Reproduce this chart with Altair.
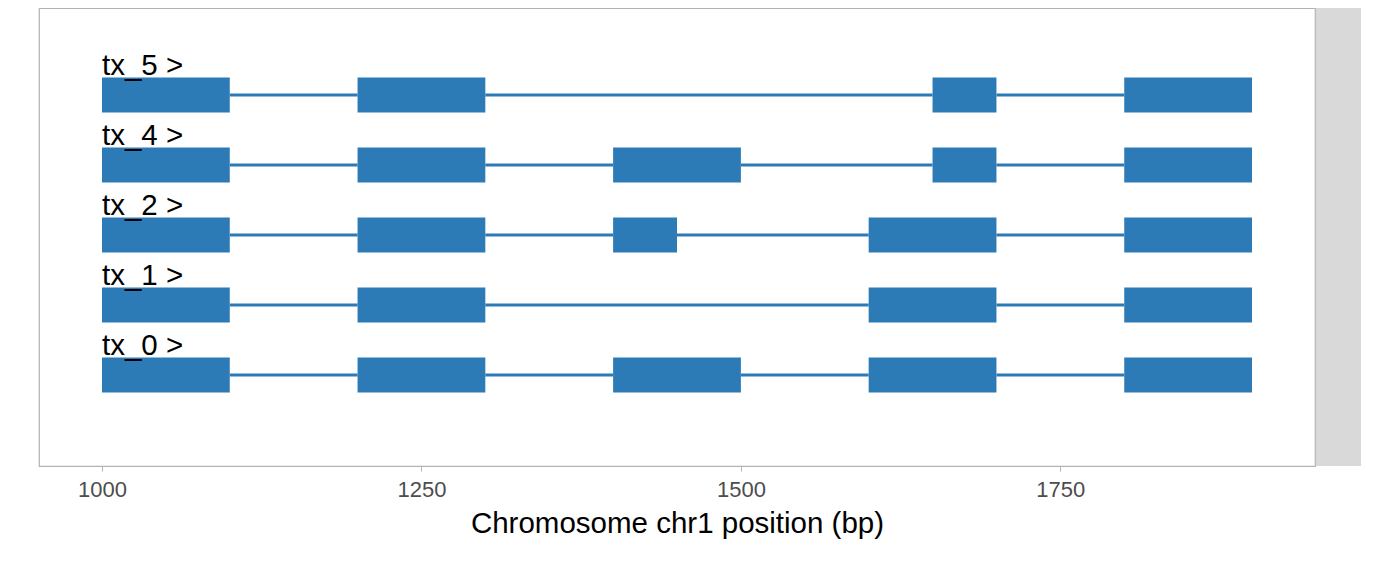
import pandas as pd
import altair as alt

# transcript tracks, bottom to top
transcripts = ["tx_0", "tx_1", "tx_2", "tx_4", "tx_5"]
exon_starts = [
    [1000, 1200, 1400, 1600, 1800],
    [1000, 1200, 1600, 1800],
    [1000, 1200, 1400, 1600, 1800],
    [1000, 1200, 1400, 1650, 1800],
    [1000, 1200, 1650, 1800],
]
exon_ends = [
    [1100, 1300, 1500, 1700, 1900],
    [1100, 1300, 1700, 1900],
    [1100, 1300, 1450, 1700, 1900],
    [1100, 1300, 1500, 1700, 1900],
    [1100, 1300, 1700, 1900],
]
x_ticks = [1000, 1250, 1500, 1750]

BLUE = "#2c7bb6"
FONT = "Liberation Sans"

exons, introns, labels = [], [], []
for i, tx in enumerate(transcripts):
    row = i + 1
    for s, e in zip(exon_starts[i], exon_ends[i]):
        exons.append({"tx": tx, "start": s, "end": e, "lo": row - 0.25, "hi": row + 0.25})
    for e, s in zip(exon_ends[i][:-1], exon_starts[i][1:]):
        introns.append({"tx": tx, "start": e, "end": s, "row": row})
    labels.append({"tx": tx, "label": tx + " >", "x": exon_starts[i][0], "row": row})

exon_df = pd.DataFrame(exons)
intron_df = pd.DataFrame(introns)
label_df = pd.DataFrame(labels)

x_scale = alt.Scale(domain=[950.7, 1949.3], nice=False, zero=False)
y_scale = alt.Scale(domain=[-0.3, 6.243], nice=False, zero=False)

x_axis = alt.Axis(values=x_ticks, format="d", grid=False, domain=False, tickColor="#b3b3b3",
                  tickSize=5, labelPadding=8, labelColor="#4d4d4d", labelFontSize=22,
                  labelFont=FONT, title="Chromosome chr1 position (bp)", titleFont=FONT,
                  titleFontSize=29.5, titleFontWeight="normal", titleColor="black",
                  titlePadding=9, labelFlush=False)

intron_layer = (
    alt.Chart(intron_df)
    .mark_rule(color=BLUE, strokeWidth=2.8)
    .encode(
        x=alt.X("start:Q", scale=x_scale, axis=x_axis),
        x2="end:Q",
        y=alt.Y("row:Q", scale=y_scale, axis=None),
    )
)

exon_layer = (
    alt.Chart(exon_df)
    .mark_rect(color=BLUE)
    .encode(
        x=alt.X("start:Q", scale=x_scale, axis=x_axis),
        x2="end:Q",
        y=alt.Y("lo:Q", scale=y_scale, axis=None),
        y2="hi:Q",
    )
)

label_layer = (
    alt.Chart(label_df)
    .mark_text(align="left", baseline="alphabetic", dy=-20, font=FONT, fontSize=29.5, color="black")
    .encode(
        x=alt.X("x:Q", scale=x_scale, axis=x_axis),
        y=alt.Y("row:Q", scale=y_scale, axis=None),
        text="label:N",
    )
)

# empty facet strip on the right of the panel
strip = (
    alt.Chart(pd.DataFrame({"s": [0]}))
    .mark_rect(color="#d9d9d9")
    .encode(x=alt.value(1277), x2=alt.value(1322), y=alt.value(0), y2=alt.value(458))
)

chart = (
    (strip + intron_layer + exon_layer + label_layer)
    .properties(width=1276, height=458, autosize=alt.AutoSizeParams(type="none"),
                padding={"left": 31, "top": 0, "right": 50, "bottom": 100})
    .configure_view(stroke="#b3b3b3", strokeWidth=1.2)
)

chart.save("out.html", embed_options={"renderer": "svg", "actions": False})
